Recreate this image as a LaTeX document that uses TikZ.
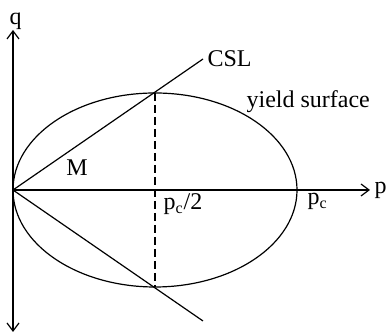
\documentclass[tikz,border=0pt]{standalone}
\usepackage{fontspec}
\setmainfont{Liberation Serif}
\usetikzlibrary{arrows.meta}
\begin{document}
\begin{tikzpicture}[x=0.5pt, y=0.5pt, line width=0.6pt, >={Straight Barb[length=4pt,width=6pt]},
    font=\fontsize{12}{14}\selectfont]
    \useasboundingbox (-13,-145) rectangle (373,190);
    % Points
    \coordinate (origin) at (0,0);
    \coordinate (qtop) at (0,160);
    \coordinate (qbot) at (0,-142);
    \coordinate (pend) at (357,0);
    \coordinate (top) at (142,97);
    \coordinate (bot) at (142,-97);
    \coordinate (cslend) at (190,131);
    \coordinate (lowend) at (190,-131);
    
    % Axes
    \draw[->] (origin) -- (qtop);
    \draw[->] (origin) -- (qbot);
    \draw[->] (origin) -- (pend);
    
    % Yield surface
    \draw (142,0) ellipse [x radius=142, y radius=97];
    
    % Lines
    \draw (origin) -- (cslend);
    \draw (origin) -- (lowend);
    \draw[dash pattern=on 4pt off 2pt] (top) -- (bot);
    
    % Labels
    \node (q) [above right, inner sep=0pt, xshift=-2pt] at (qtop) {q};
    \node (p) [right, inner sep=2pt] at (pend) {p};
    \node (csl) [right, inner sep=2pt] at (cslend) {CSL};
    \node (yield) [right, inner sep=0pt] at (233,88) {yield surface};
    \node (m) at (64,22) {M};
    \node (half) [below right, inner sep=1pt] at (148,-1) {p\textsubscript{c}/2};
    \node (pc) [below right, inner sep=1pt] at (292,-1) {p\textsubscript{c}};
\end{tikzpicture}
\end{document}
